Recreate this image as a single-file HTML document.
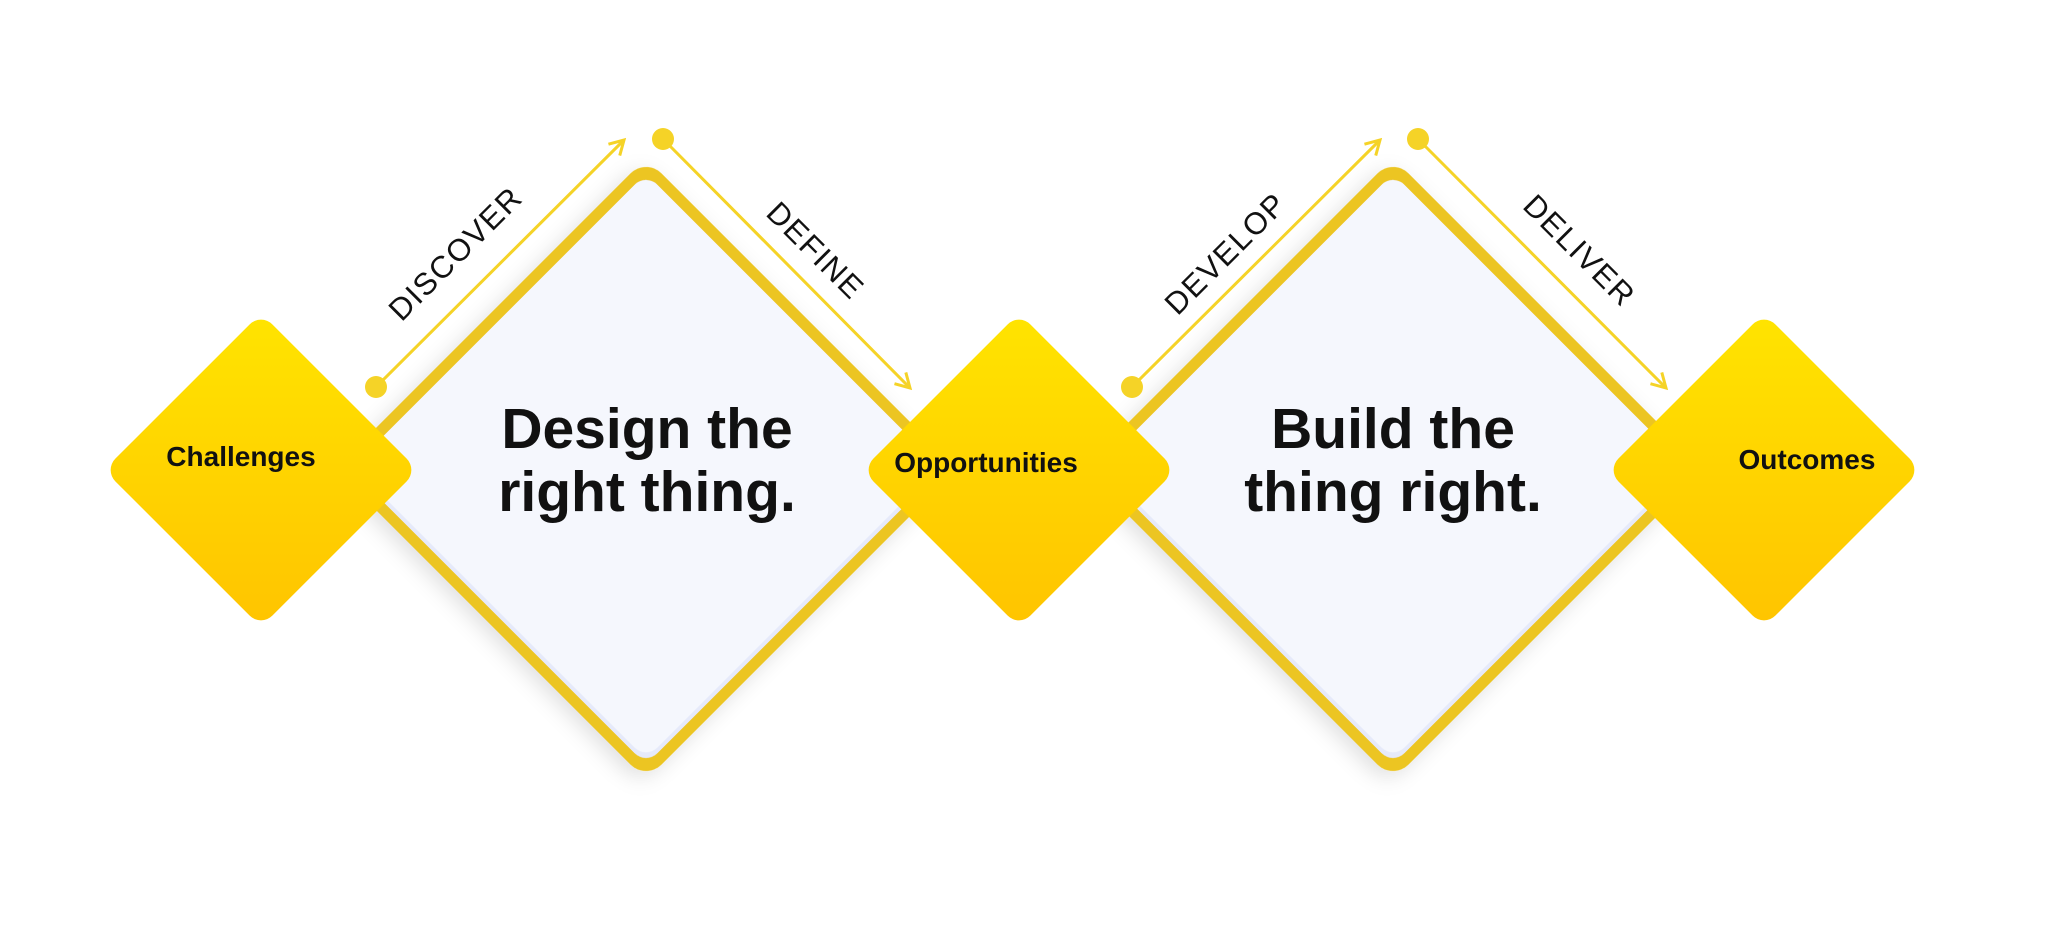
<!DOCTYPE html>
<html><head><meta charset="utf-8"><style>
html,body{margin:0;padding:0;background:#fff;width:2048px;height:928px;overflow:hidden}
svg{display:block}
</style></head><body>
<svg width="2048" height="928" viewBox="0 0 2048 928" xmlns="http://www.w3.org/2000/svg" font-family="Liberation Sans, sans-serif">
<defs>
<linearGradient id="yg" x1="0" y1="0" x2="1" y2="1">
<stop offset="0" stop-color="#ffe400"/><stop offset="1" stop-color="#ffc400"/>
</linearGradient>
<filter id="sh" x="-20%" y="-20%" width="140%" height="140%">
<feDropShadow dx="0" dy="8" stdDeviation="10" flood-color="#000" flood-opacity="0.12"/>
</filter>
<marker id="ar" viewBox="0 0 20 20" refX="17" refY="10" markerWidth="20" markerHeight="20" markerUnits="userSpaceOnUse" orient="auto">
<path d="M3 2 L17 10 L3 18" fill="none" stroke="#f5d327" stroke-width="3"/>
</marker>
</defs>

<g transform="translate(646,469) rotate(45)" filter="url(#sh)">
<rect x="-220" y="-220" width="440" height="440" rx="22" fill="#ecc521"/>
<rect x="-209" y="-209" width="418" height="418" rx="16" fill="#e6eafa"/>
<rect x="-209" y="-209" width="414" height="414" rx="16" fill="#f5f7fd"/>
</g>
<g transform="translate(1393,469) rotate(45)" filter="url(#sh)">
<rect x="-220" y="-220" width="440" height="440" rx="22" fill="#ecc521"/>
<rect x="-209" y="-209" width="418" height="418" rx="16" fill="#e6eafa"/>
<rect x="-209" y="-209" width="414" height="414" rx="16" fill="#f5f7fd"/>
</g>

<g stroke="#f5d327" stroke-width="3" fill="none">
<line x1="376" y1="387" x2="624" y2="140" marker-end="url(#ar)"/>
<line x1="663" y1="139" x2="910" y2="388" marker-end="url(#ar)"/>
<line x1="1132" y1="387" x2="1380" y2="140" marker-end="url(#ar)"/>
<line x1="1418" y1="139" x2="1666" y2="388" marker-end="url(#ar)"/>
</g>
<g fill="#f5d327">
<circle cx="376" cy="387" r="11"/><circle cx="663" cy="139" r="11"/>
<circle cx="1132" cy="387" r="11"/><circle cx="1418" cy="139" r="11"/>
</g>

<g font-size="31" fill="#111" text-anchor="middle" letter-spacing="1.5">
<text transform="translate(463,261) rotate(-45)">DISCOVER</text>
<text transform="translate(808,258) rotate(45)">DEFINE</text>
<text transform="translate(1233,261) rotate(-45)">DEVELOP</text>
<text transform="translate(1572,258) rotate(45)">DELIVER</text>
</g>

<g font-size="57" font-weight="bold" fill="#111" text-anchor="middle">
<text x="647" y="448">Design the</text>
<text x="647" y="511">right thing.</text>
<text x="1393" y="448">Build the</text>
<text x="1393" y="511">thing right.</text>
</g>

<g transform="translate(261,470) rotate(45)"><rect x="-111" y="-111" width="222" height="222" rx="16" fill="url(#yg)"/></g>
<g transform="translate(1019,470) rotate(45)"><rect x="-111" y="-111" width="222" height="222" rx="16" fill="url(#yg)"/></g>
<g transform="translate(1764,470) rotate(45)"><rect x="-111" y="-111" width="222" height="222" rx="16" fill="url(#yg)"/></g>

<g font-size="28" font-weight="bold" fill="#111" text-anchor="middle">
<text x="241" y="466">Challenges</text>
<text x="986" y="472">Opportunities</text>
<text x="1807" y="469">Outcomes</text>
</g>
</svg>
</body></html>
